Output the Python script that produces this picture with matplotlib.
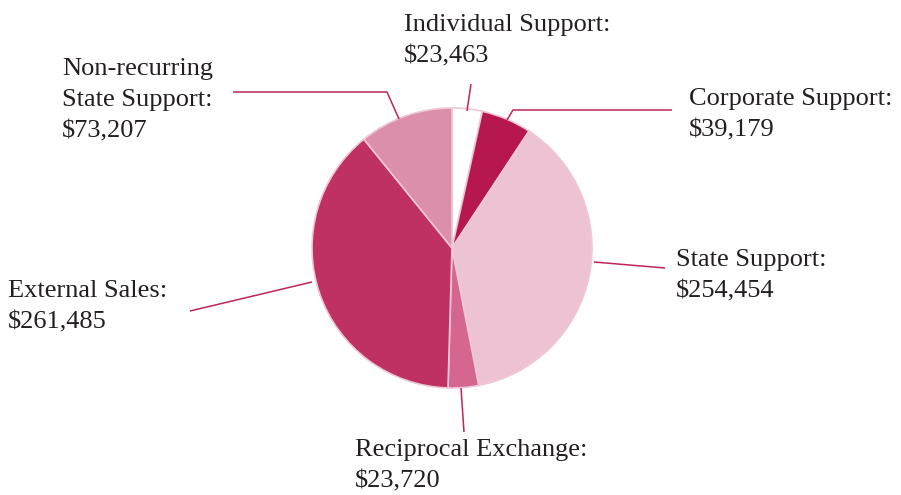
import matplotlib.pyplot as plt

labels = ["Individual Support", "Corporate Support", "State Support",
          "Reciprocal Exchange", "External Sales", "Non-recurring\nState Support"]
values = [23463, 39179, 254454, 23720, 261485, 73207]
colors = ["#ffffff", "#b5174e", "#edc3d3", "#d4668f", "#c03163", "#dc8fab"]

W, H = 901, 495
LINE = "#c0245a"
TEXT = "#231f20"

fig = plt.figure(figsize=(W / 100, H / 100), dpi=100)
ax = fig.add_axes([0, 0, 1, 1])


def py(y):
    # convert from picture (top-down) pixel rows
    return H - y


ax.pie(values, colors=colors, startangle=90, counterclock=False,
       center=(452, py(248)), radius=140,
       wedgeprops=dict(edgecolor="#eec8d6", linewidth=1.2))

# pie() resets the limits, so set them afterwards
ax.set_xlim(0, W)
ax.set_ylim(0, H)
ax.set_aspect("equal")
ax.axis("off")

# leader lines (picture pixel coords)
leaders = [
    [(467, 111), (471, 84)],
    [(507, 120), (513, 110), (672, 110)],
    [(594, 262), (665, 268)],
    [(461, 388), (464, 432)],
    [(312, 282), (190, 311)],
    [(399, 119), (387, 92), (233, 92)],
]
for pts in leaders:
    xs = [p[0] for p in pts]
    ys = [py(p[1]) for p in pts]
    ax.plot(xs, ys, color=LINE, lw=1.1, solid_capstyle="butt")

# label anchors: left x, baseline y of first line; line step 31 px
anchors = [(404, 31), (689, 105), (676, 266), (355, 456), (8, 297), (62, 75)]
step = 31
for lab, val, (x, y) in zip(labels, values, anchors):
    lines = (lab + ":").split("\n") + [f"${val:,}"]
    for i, s in enumerate(lines):
        ax.text(x, py(y + i * step), s, ha="left", va="baseline",
                fontsize=19, family="Liberation Serif", color=TEXT)

fig.savefig("out.png", dpi=100)
